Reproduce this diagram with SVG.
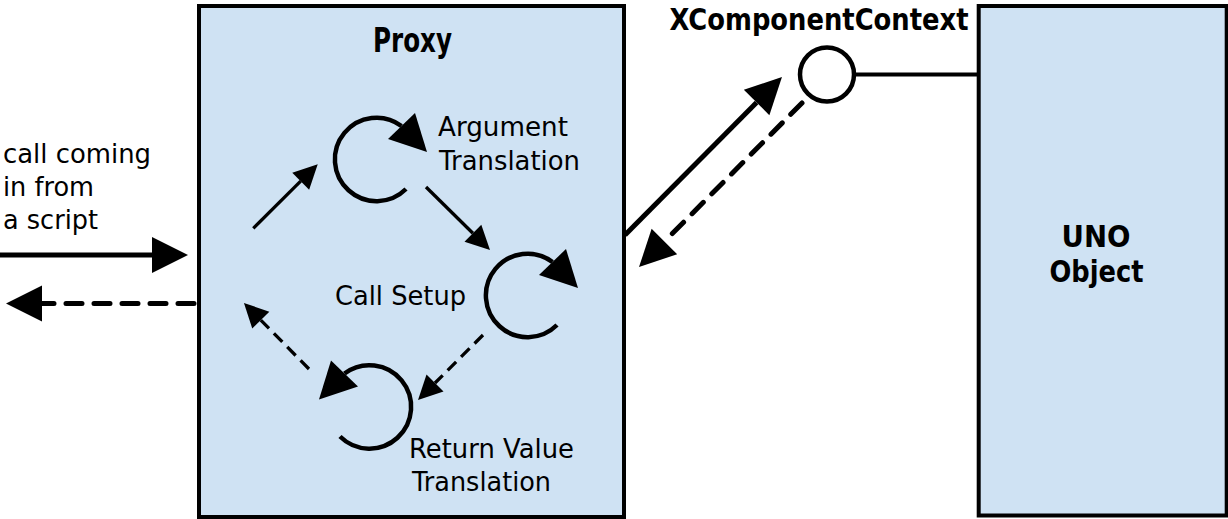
<svg xmlns="http://www.w3.org/2000/svg" width="1228" height="519" viewBox="0 0 1228 519">
<style>
.box{fill:#cfe2f3;stroke:#000;stroke-width:4}
.t{font-family:"DejaVu Sans",sans-serif;font-size:26px;fill:#000}
.b{font-family:"DejaVu Sans Condensed","DejaVu Sans",sans-serif;font-weight:bold;fill:#000}
.big{fill:none;stroke:#000;stroke-width:5}
.sm{fill:none;stroke:#000;stroke-width:3.3}
.dash{stroke-dasharray:16 12;stroke-linecap:round}
.dsm{stroke-dasharray:12 7}
.loop{fill:none;stroke:#000;stroke-width:4.5}
</style>
<defs>
<marker id="hb" markerUnits="userSpaceOnUse" markerWidth="36" markerHeight="36" refX="0" refY="18" orient="auto" overflow="visible"><path d="M0,0 L36,18 L0,36 z" fill="#000"/></marker>
<marker id="hs" markerUnits="userSpaceOnUse" markerWidth="24" markerHeight="24" refX="0" refY="12" orient="auto" overflow="visible"><path d="M0,0 L24,12 L0,24 z" fill="#000"/></marker>
<g id="loopshape">
<path class="loop" d="M30,30 A41.7,41.7 0 1 1 25.5,-33"/>
<polygon points="12,-20 51,-7 39,-46" fill="#000"/>
</g>
</defs>
<g id="proxy">
<rect class="box" x="199" y="6" width="425" height="511"/>
<text class="b" x="412.5" y="51.7" text-anchor="middle" font-size="33" textLength="79" lengthAdjust="spacingAndGlyphs">Proxy</text>
</g>
<g id="uno">
<rect class="box" x="978.7" y="6" width="248" height="509.5"/>
<text class="b" x="1096" y="246.5" text-anchor="middle" font-size="30" textLength="69" lengthAdjust="spacingAndGlyphs">UNO</text>
<text class="b" x="1096.5" y="282" text-anchor="middle" font-size="30" textLength="94" lengthAdjust="spacingAndGlyphs">Object</text>
</g>
<g id="caller">
<text class="t" x="3" y="163" textLength="148" lengthAdjust="spacingAndGlyphs">call coming</text>
<text class="t" x="3" y="196" textLength="91" lengthAdjust="spacingAndGlyphs">in from</text>
<text class="t" x="3" y="229" textLength="95" lengthAdjust="spacingAndGlyphs">a script</text>
</g>
<g id="argument-translation">
<use href="#loopshape" transform="translate(376,159)"/>
<text class="t" x="438" y="136" textLength="130" lengthAdjust="spacingAndGlyphs">Argument</text>
<text class="t" x="439" y="170" textLength="141" lengthAdjust="spacingAndGlyphs">Translation</text>
</g>
<g id="call-setup">
<use href="#loopshape" transform="translate(527,295)"/>
<text class="t" x="335" y="305" textLength="131" lengthAdjust="spacingAndGlyphs">Call Setup</text>
</g>
<g id="return-value-translation">
<use href="#loopshape" transform="translate(370,406.5) scale(-1,1)"/>
<text class="t" x="409" y="458" textLength="165" lengthAdjust="spacingAndGlyphs">Return Value</text>
<text class="t" x="412" y="491" textLength="139" lengthAdjust="spacingAndGlyphs">Translation</text>
</g>
<g id="connectors">
<path class="big" d="M0,255 L152,255" marker-end="url(#hb)"/>
<path class="big dash" d="M194,303.5 L42,303.5" marker-end="url(#hb)"/>
<path class="sm" d="M253.3,228.3 L300.7,181.2" marker-end="url(#hs)"/>
<path class="sm" d="M426,187 L472.9,233.2" marker-end="url(#hs)"/>
<path class="sm dsm" d="M483,335 L435,383" marker-end="url(#hs)"/>
<path class="sm dsm" d="M309,369 L260.8,320.1" marker-end="url(#hs)"/>
<path class="big" d="M625,235 L756.6,102.5" marker-end="url(#hb)"/>
<path class="big dash" d="M802,103 L664.4,241.5" marker-end="url(#hb)"/>
<path fill="none" stroke="#000" stroke-width="4" d="M854,74.5 L977,74.5"/>
</g>
<g id="xcomponentcontext">
<circle cx="827" cy="74.5" r="27" fill="#fff" stroke="#000" stroke-width="4.5"/>
<text class="b" x="819" y="30" text-anchor="middle" font-size="30" textLength="299" lengthAdjust="spacingAndGlyphs">XComponentContext</text>
</g>
</svg>
